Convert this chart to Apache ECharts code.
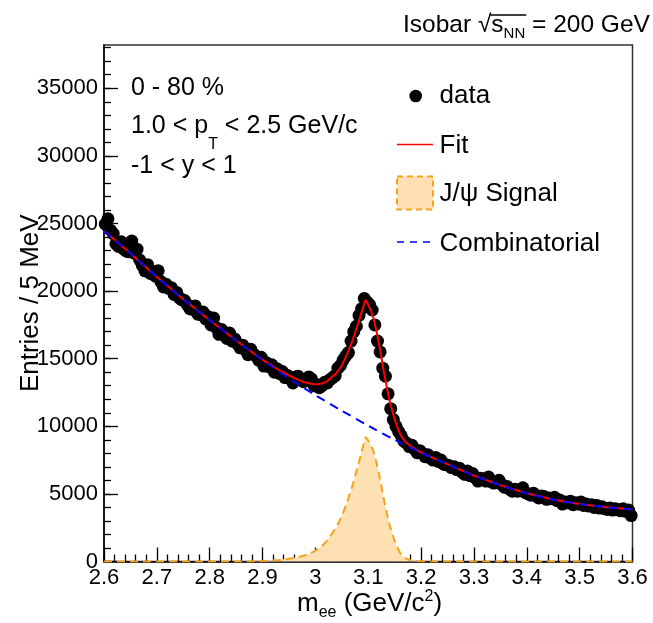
<!DOCTYPE html>
<html><head><meta charset="utf-8">
<script src="https://cdn.jsdelivr.net/npm/echarts@6/dist/echarts.min.js"></script>
<style>html,body{margin:0;padding:0;background:#fff}#c{width:653px;height:623px}</style>
</head><body><div id="c"></div>
<script>
// ---------------- data ----------------
const massLow = 2.6;
const binWidth = 0.005;
const counts = [
24950,25350,24500,24250,23500,23300,23650,23100,22950,22900,
23700,22800,23100,22300,21900,21500,21950,21300,21450,21100,
21500,20700,20300,20500,20200,20250,19750,19900,19500,19350,
19300,19000,18700,18650,18900,18300,18250,18450,17950,18100,
17500,18000,17300,16800,17150,16900,16500,16900,16300,16450,
16100,15800,16000,15650,15300,15700,15350,15200,14900,15100,
14450,14700,14400,14550,14000,14250,13900,14050,13600,13750,
13500,13200,13650,13700,13450,13300,13450,13650,13500,13000,
13100,12850,13000,13250,13200,13450,13600,13750,14300,14500,
14900,15200,15450,16300,17000,17400,18200,18700,19450,19200,
19000,18600,17500,16300,15500,14300,13700,12400,11300,10500,
10000,9600,9300,8900,8750,8500,8600,8300,8050,8200,
8000,7750,7900,7650,7500,7700,7400,7500,7200,7150,
7100,6950,7000,6800,6900,6600,6450,6700,6350,6500,
6200,5950,6150,6100,5950,6250,5900,5800,5900,6000,
5700,5500,5550,5350,5200,5350,5200,5300,5450,5100,
5000,4900,5050,4850,4700,4850,4800,4600,4700,4650,
4750,4500,4550,4250,4400,4350,4450,4200,4350,4250,
4400,4150,4250,4100,4200,4000,4150,3950,4050,3900,
3850,3950,3800,3900,3850,3750,3900,3700,3800,3400];

const fitMass = [2.60,2.61,2.62,2.63,2.64,2.65,2.66,2.67,2.68,2.69,2.70,2.71,2.72,2.73,2.74,2.75,2.76,2.77,2.78,2.79,2.80,2.81,2.82,2.83,2.84,2.85,2.86,2.87,2.88,2.89,
2.900,2.905,2.910,2.915,2.920,2.925,2.930,2.935,2.940,2.945,2.950,2.955,2.960,2.965,2.970,2.975,2.980,2.985,2.990,2.995,
3.000,3.005,3.010,3.015,3.020,3.025,3.030,3.035,3.040,3.045,3.050,3.055,3.060,3.065,3.070,3.075,3.080,3.085,3.090,3.095,
3.100,3.105,3.110,3.115,3.120,3.125,3.130,3.135,3.140,3.145,3.150,3.155,3.160,3.165,3.170,3.175,3.180,3.185,3.190,3.195,3.200,
3.21,3.22,3.23,3.24,3.25,3.26,3.27,3.28,3.29,3.30,3.31,3.32,3.33,3.34,3.35,3.36,3.37,3.38,3.39,3.40,
3.41,3.42,3.43,3.44,3.45,3.46,3.47,3.48,3.49,3.50,3.51,3.52,3.53,3.54,3.55,3.56,3.57,3.58,3.59,3.60];
const fitValues = [24450,24120,23790,23460,23130,22800,22450,22100,21750,21400,21050,20720,20390,20060,19730,19400,19090,18780,18470,18160,17850,17550,17250,16950,16650,16350,16060,15770,15480,15190,
14930,14805,14680,14555,14430,14310,14190,14085,13980,13870,13760,13665,13570,13485,13400,13325,13250,13205,13160,13125,
13100,13115,13140,13205,13290,13425,13610,13775,13930,14215,14500,14910,15330,15820,16310,16900,17490,18130,18770,19360,
19000,18545,17990,17135,16180,15075,13920,12915,11960,11205,10500,9955,9460,9135,8870,8695,8530,8405,8285,8175,8070,
7880,7710,7540,7370,7200,7030,6860,6690,6520,6350,6210,6070,5930,5790,5650,5530,5410,5290,5170,5050,
4956,4862,4768,4674,4580,4514,4448,4382,4316,4250,4204,4158,4112,4066,4020,3986,3952,3918,3884,3850];

const combMass = [2.60,2.65,2.70,2.75,2.80,2.85,2.90,2.95,3.00,3.05,3.10,3.15,3.20,3.25,3.30,3.35,3.40,3.45,3.50,3.55,3.60];
const combValues = [24450,22800,21050,19400,17850,16350,14900,13550,12300,11150,10050,9000,8050,7200,6350,5650,5050,4580,4250,4020,3850];

const sigMass = [2.60,2.70,2.80,2.85,2.88,
2.900,2.905,2.910,2.915,2.920,2.925,2.930,2.935,2.940,2.945,2.950,2.955,2.960,2.965,2.970,2.975,2.980,2.985,2.990,2.995,
3.000,3.005,3.010,3.015,3.020,3.025,3.030,3.035,3.040,3.045,3.050,3.055,3.060,3.065,3.070,3.075,3.080,3.085,3.090,3.095,
3.100,3.105,3.110,3.115,3.120,3.125,3.130,3.135,3.140,3.145,3.150,3.155,3.160,3.165,3.170,3.175,3.180,3.185,3.190,3.195,3.200,
3.22,3.25,3.30,3.40,3.50,3.60];
const sigValues = [0,0,0,3,12,
30,40,50,60,70,85,100,130,160,185,210,240,270,310,350,400,450,530,610,700,
800,930,1070,1250,1450,1700,2000,2280,2550,2950,3350,3870,4400,5000,5600,6300,7000,7750,8500,9200,
8950,8600,8150,7400,6550,5550,4500,3600,2750,2100,1500,1050,650,420,250,170,100,70,45,30,20,
5,0,0,0,0,0];

const xMin = 2.6, xMax = 3.6, xStep = 0.1;
const yMax = 38200;
const yMajorTicks = [0,5000,10000,15000,20000,25000,30000,35000];
const yMinorTicks = [0,1000,2000,3000,4000,5000,6000,7000,8000,9000,10000,11000,12000,13000,14000,15000,16000,17000,18000,19000,20000,21000,22000,23000,24000,25000,26000,27000,28000,29000,30000,31000,32000,33000,34000,35000,36000,37000,38000];

const legendNames = ['data','Fit','J/\u03c8 Signal','Combinatorial'];
const yTitle = 'Entries / 5 MeV';

// ---------------- build ----------------
const FONT = '"Liberation Sans", Arial, Helvetica, sans-serif';
const cv = document.createElement('canvas').getContext('2d');
function tw(t, s){ cv.font = s + 'px ' + FONT; return cv.measureText(t).width; }
function textRun(x, base, segs){
  const out = []; let cx = x; const pos = [];
  for (const [t, s, dy] of segs){
    out.push({type:'text', x: cx, y: base + dy - 0.35*s, z: 100,
      style:{text:t, font: s + 'px ' + FONT, fill:'#000', textVerticalAlign:'middle', verticalAlign:'middle', textAlign:'left', align:'left'}});
    pos.push([cx, cx + tw(t, s)]);
    cx += tw(t, s);
  }
  return {els: out, pos: pos};
}

const scatterData = counts.map((v,i)=>[+(massLow + binWidth*(i+0.5)).toFixed(4), v]);
const fitData = fitMass.map((m,i)=>[m, fitValues[i]]);
const combData = combMass.map((m,i)=>[m, combValues[i]]);
const sigData = sigMass.map((m,i)=>[m, sigValues[i]]);

const graphics = [];
// title
const title = textRun(403, 34, [['Isobar ',24.5,0],['\u221a',24.5,0],['s',24.5,0],['NN',15,5],[' = 200 GeV',24.5,0]]);
graphics.push(...title.els);
graphics.push({type:'line', z:100, shape:{x1:title.pos[1][1]-1, y1:34-19, x2:title.pos[3][1]+1, y2:34-19}, style:{stroke:'#000', lineWidth:1.3}});
// annotations
graphics.push(...textRun(131, 97, [['0 - 80 %',25,0]]).els);
graphics.push(...textRun(131, 135, [['1.0 < p',25,0],['T',16,15],[' < 2.5 GeV/c',25,0]]).els);
graphics.push(...textRun(131, 175, [['-1 < y < 1',25,0]]).els);
// legend
graphics.push({type:'circle', z:100, shape:{cx:415.7, cy:96, r:6.3}, style:{fill:'#000'}});
graphics.push(...textRun(439.5, 105, [[legendNames[0],26,0]]).els);
graphics.push({type:'line', z:100, shape:{x1:397, y1:144.5, x2:433, y2:144.5}, style:{stroke:'#ff0000', lineWidth:1.5}});
graphics.push(...textRun(439.5, 155, [[legendNames[1],26,0]]).els);
graphics.push({type:'rect', z:100, shape:{x:397, y:176.5, width:36, height:33}, style:{fill:'#fee0b2', stroke:'#f5a31a', lineWidth:2, lineDash:[6,4]}});
graphics.push(...textRun(439.5, 203, [[legendNames[2],26,0]]).els);
graphics.push({type:'line', z:100, shape:{x1:397, y1:242, x2:433, y2:242}, style:{stroke:'#0000ff', lineWidth:1.5, lineDash:[7,6]}});
graphics.push(...textRun(439.5, 252.5, [[legendNames[3],26,0]]).els);
// x axis title
graphics.push(...textRun(297, 613, [['m',26,0],['ee',16,5],[' (GeV/c',26,0],['2',16,-11],[')',26,0]]).els);

const chart = echarts.init(document.getElementById('c'), null, {renderer:'canvas'});
chart.setOption({
  animation:false,
  backgroundColor:'#fff',
  textStyle:{fontFamily:FONT},
  grid:{left:104, top:45, right:20.5, bottom:61.5, show:true, borderColor:'#333', borderWidth:1.5, backgroundColor:'transparent'},
  xAxis:{type:'value', min:xMin, max:xMax, interval:xStep,
    axisLine:{lineStyle:{color:'#000', width:1.5}},
    axisTick:{inside:true, length:14, lineStyle:{color:'#000', width:1.3}},
    minorTick:{show:true, splitNumber:5, length:7, lineStyle:{color:'#000', width:1.3}},
    splitLine:{show:false}, minorSplitLine:{show:false},
    axisLabel:{fontSize:22, color:'#000', fontFamily:FONT, margin:5,
      formatter:v=>String(Math.round(v*10)/10)}},
  yAxis:[{type:'value', min:0, max:yMax, position:'left',
    name:yTitle, nameLocation:'middle', nameGap:60, nameRotate:90, nameMoveOverlap:false,
    nameTextStyle:{fontSize:26, color:'#000', fontFamily:FONT},
    axisLine:{show:true, lineStyle:{color:'#000', width:1.5}},
    axisTick:{inside:true, length:14, customValues:yMajorTicks, lineStyle:{color:'#000', width:1.3}},
    axisLabel:{fontSize:22, color:'#000', fontFamily:FONT, margin:6, customValues:yMajorTicks,
      formatter:v=>String(v)},
    splitLine:{show:false}},
   {type:'value', min:0, max:yMax, position:'left',
    axisLine:{show:false},
    axisTick:{inside:true, length:7, customValues:yMinorTicks, lineStyle:{color:'#000', width:1.3}},
    axisLabel:{show:false}, splitLine:{show:false}}],
  series:[
    {name:legendNames[2], type:'line', data:sigData, showSymbol:false, symbol:'none', z:2,
     lineStyle:{color:'#f5a31a', width:2, type:[8,5]}, areaStyle:{color:'#fee0b2', opacity:1}},
    {name:legendNames[0], type:'scatter', data:scatterData, symbol:'circle', symbolSize:13, z:3,
     itemStyle:{color:'#000', opacity:1}},
    {name:legendNames[1], type:'line', data:fitData, showSymbol:false, symbol:'none', z:4,
     lineStyle:{color:'#ff0000', width:2}},
    {name:legendNames[3], type:'line', data:combData, showSymbol:false, symbol:'none', smooth:0.3, z:5,
     lineStyle:{color:'#0000ff', width:2, type:[9,6]}}
  ],
  graphic:graphics
});
</script></body></html>
